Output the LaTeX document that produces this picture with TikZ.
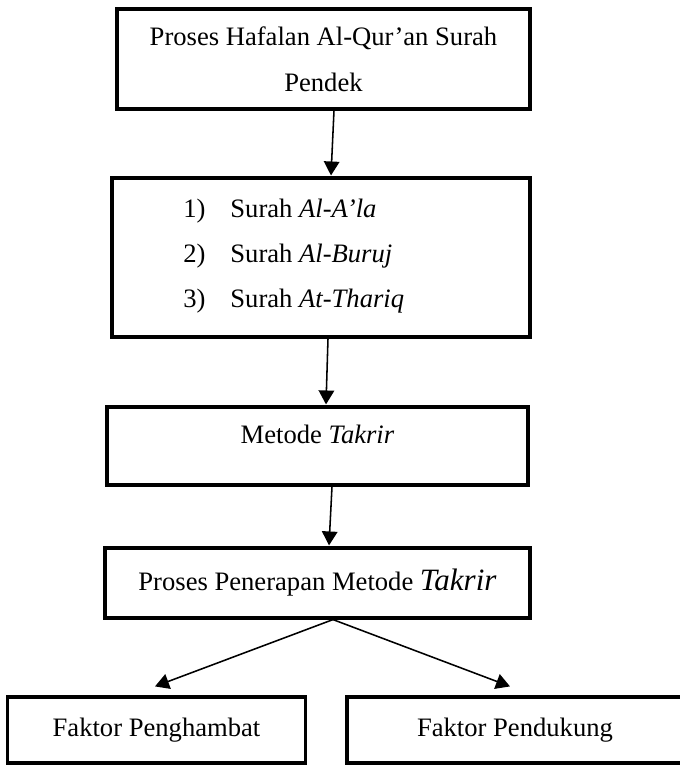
\documentclass[tikz,border=0pt]{standalone}
\usepackage{fontspec}
\setmainfont{Liberation Serif}
\usetikzlibrary{arrows.meta,calc}
\tikzset{
  box/.style={draw,line width=1.4pt,inner sep=0pt},
  arr/.style={-{Triangle[length=6.3pt,width=7pt]},line width=0.7pt},
}
\begin{document}
\begin{tikzpicture}[x=0.451pt,y=-0.451pt,font=\fontsize{12}{14}\selectfont]
  \useasboundingbox (0,0) rectangle (679,766);
  % drawing the boxes
  \node[box,minimum width=186.3pt,minimum height=45.1pt,align=center,
    font=\fontsize{12}{20.7}\selectfont] (hafalan) at (323.5,59)
    {Proses Hafalan Al-Qur’an Surah\\Pendek};
  \node[box,minimum width=188.5pt,minimum height=71.7pt] (surah) at (321,257.5) {};
  \foreach \i/\y/\nm in {1/217/Al-A’la,2/262/Al-Buruj,3/307/At-Thariq} {
    \node[anchor=base west,inner sep=0pt] (no\i) at (183,\y) {\i)};
    \node[anchor=base west,inner sep=0pt] (sr\i) at (230,\y) {Surah \textit{\nm}};
  }
  \node[box,minimum width=189.9pt,minimum height=35.2pt,text height=8.5pt,
    text depth=11pt] (metode) at (317.5,446) {Metode \textit{Takrir}};
  \node[box,minimum width=191.7pt,minimum height=31.6pt] (penerapan) at (317.5,583)
    {Proses Penerapan Metode {\fontsize{14}{16}\selectfont\textit{Takrir}}};
  \node[box,minimum width=134pt,minimum height=29.8pt] (hambat) at (156.5,730)
    {Faktor Penghambat};
  \node[box,minimum width=151.5pt,minimum height=29.8pt] (dukung) at (515,730)
    {Faktor Pendukung};
  % connecting them
  \draw[arr] ($(hafalan.south)+(10.5,0)$) -- ($(surah.north)+(10,-1)$);
  \draw[arr] ($(surah.south)+(7,0)$) -- ($(metode.north)+(8.5,-1)$);
  \draw[arr] ($(metode.south)+(14.5,0)$) -- ($(penerapan.north)+(11.5,-1)$);
  \draw[arr] ($(penerapan.south)+(15.5,0)$) -- ($(hambat.north)+(-1.5,-9)$);
  \draw[arr] ($(penerapan.south)+(15.5,0)$) -- ($(dukung.north)+(-5,-9)$);
\end{tikzpicture}
\end{document}
